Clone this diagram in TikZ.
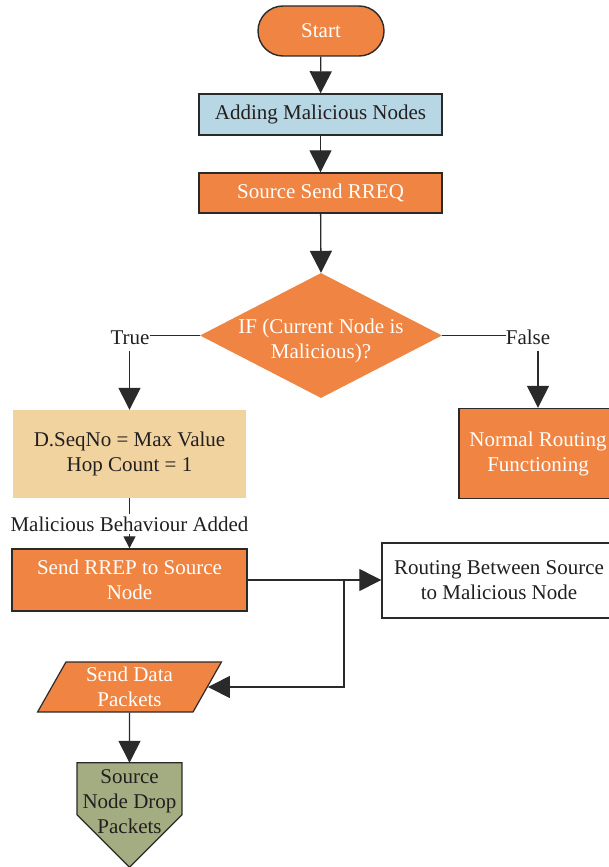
\documentclass[tikz,border=0pt]{standalone}
\usepackage{fontspec}
\setmainfont{Liberation Serif}
\usetikzlibrary{arrows.meta,shapes.geometric,calc}
\definecolor{orng}{HTML}{F08442}
\definecolor{lblue}{HTML}{B7D7E5}
\definecolor{wheatc}{HTML}{F1D39F}
\definecolor{sage}{HTML}{A4AD81}
\definecolor{ink}{HTML}{231F20}
\definecolor{edge}{HTML}{2A2A2A}
\begin{document}
\begin{tikzpicture}[x=1pt,y=-1pt,
  every node/.style={font=\fontsize{21}{25}\selectfont, inner sep=0pt, align=center, text=ink},
  procbox/.style={draw=edge, line width=1.4pt},
  lbl/.style={inner xsep=0pt, inner ysep=6pt},
  conn/.style={draw=edge, line width=1.3pt},
  arr/.style={conn, -{Triangle[length=22pt,width=22pt]}},
  sarr/.style={conn, -{Triangle[length=12pt,width=12pt]}},
]
\useasboundingbox (0,0) rectangle (608,867);
% nodes
\node[procbox, fill=orng, text=white, rounded corners=25pt, minimum width=126pt, minimum height=50pt] (start) at (321,31) {Start};
\node[procbox, fill=lblue, minimum width=243pt, minimum height=41pt] (add) at (320.5,114.5) {Adding Malicious Nodes};
\node[procbox, fill=orng, text=white, minimum width=243pt, minimum height=40pt] (rreq) at (320.5,193) {Source Send RREQ};
\node[diamond, fill=orng, minimum width=242pt, minimum height=125pt] (dia) at (321,335.5) {};
\node[text=white] (diatxt) at (321,341) {IF (Current Node is\\Malicious)?};
\node[lbl] (tl) at (130,338) {True};
\node[lbl] (fl) at (528,337) {False};
\node[fill=wheatc, minimum width=233pt, minimum height=88pt] (seq) at (129.5,454) {D.SeqNo = Max Value\\Hop Count = 1};
\node[procbox, fill=orng, text=white, minimum width=158pt, minimum height=90pt] (nr) at (538,453.5) {Normal Routing\\Functioning};
\node[inner ysep=2pt] (mb) at (129.5,524) {Malicious Behaviour Added};
\node[procbox, fill=orng, text=white, minimum width=235pt, minimum height=62pt] (rrep) at (129.5,580) {Send RREP to Source\\Node};
\node[procbox, fill=white, minimum width=234pt, minimum height=75pt] (rout) at (499,580.5) {Routing Between Source\\to Malicious Node};
\node[trapezium, trapezium left angle=64, trapezium right angle=116, trapezium stretches=true, draw=edge, line width=1.2pt, fill=orng, text=white, minimum width=184pt, minimum height=50pt] (pd) at (129.5,687) {Send Data\\Packets};
\node[minimum width=104.5pt, minimum height=104pt] (drop) at (129.5,815) {};
\filldraw[fill=sage, draw=edge, line width=1.2pt] (drop.north west) -- (drop.north east) -- ($(drop.north east)+(0,52)$) -- (drop.south) -- ($(drop.north west)+(0,52)$) -- cycle;
\node (droptxt) at (129.5,802) {Source\\Node Drop\\Packets};
\coordinate (j) at (344,580);
% connectors
\draw[arr] (start) -- (add);
\draw[arr] (add) -- (rreq);
\draw[arr] (rreq) -- (dia.north);
\draw[conn] (dia.west) -- (dia.west -| tl.east);
\draw[conn] (dia.east) -- (dia.east -| fl.west);
\draw[arr] (tl.south -| seq.north) -- (seq.north);
\draw[arr] (fl.south -| nr.north) -- (nr.north);
\draw[conn] (seq.south) -- (mb.north);
\draw[sarr] (mb.south) -- (rrep.north);
\draw[arr] (rrep.east) -- (rrep.east -| rout.west);
\draw[arr] (j) |- (pd.east);
\draw[arr] (pd.south) -- (drop.north);
\end{tikzpicture}
\end{document}
